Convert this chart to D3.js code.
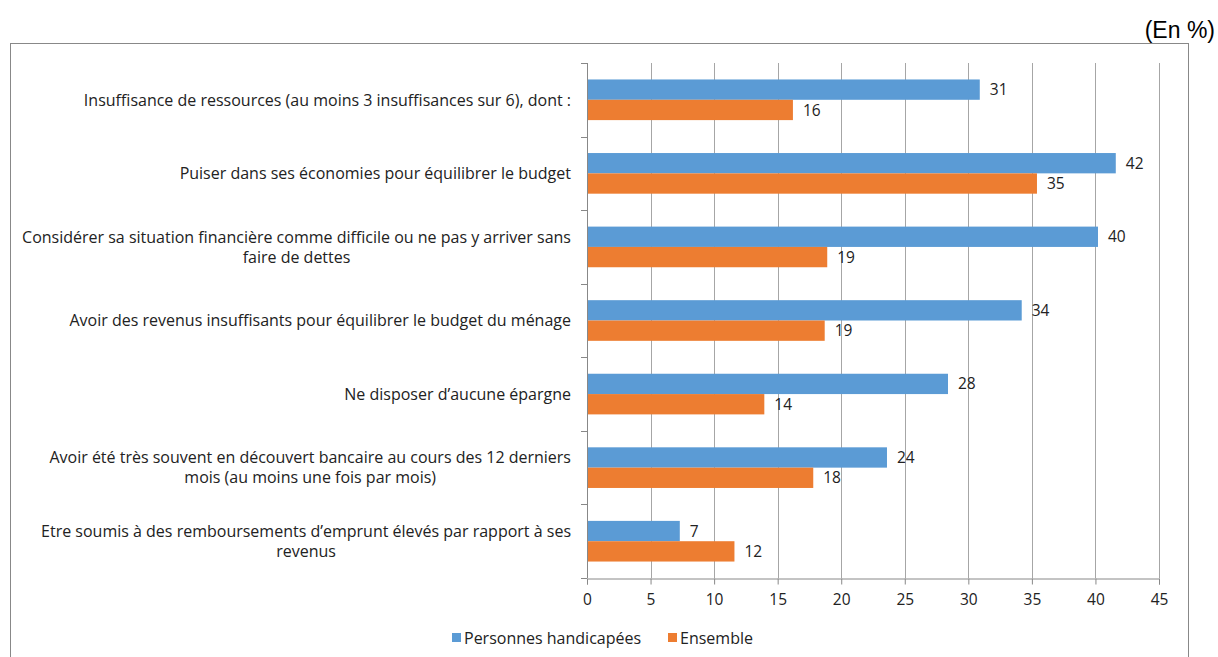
<!DOCTYPE html>
<html>
<head>
<meta charset="utf-8">
<script src="https://cdn.jsdelivr.net/npm/d3@7"></script>
<style>
  body { margin: 0; background: #fff; }
  text { font-family: "Open Sans", sans-serif; fill: #222; }
</style>
</head>
<body>
<div id="chart"></div>
<script>
//////////////////////////// data /////////////////////////////////////////

const categories = [
  ["Insuffisance de ressources (au moins 3 insuffisances sur 6), dont :"],
  ["Puiser dans ses économies pour équilibrer le budget"],
  ["Considérer sa situation financière comme difficile ou ne pas y arriver sans", "faire de dettes"],
  ["Avoir des revenus insuffisants pour équilibrer le budget du ménage"],
  ["Ne disposer d’aucune épargne"],
  ["Avoir été très souvent en découvert bancaire au cours des 12 derniers", "mois (au moins une fois par mois)"],
  ["Etre soumis à des remboursements d’emprunt élevés  par rapport à ses", "revenus"]
];
const seriesNames = ["Personnes handicapées", "Ensemble"];
// values (labels show them rounded)
const handicapees = [30.9, 41.6, 40.2, 34.2, 28.4, 23.6, 7.3];
const ensemble = [16.2, 35.4, 18.9, 18.7, 13.95, 17.8, 11.6];
const xTicks = [0, 5, 10, 15, 20, 25, 30, 35, 40, 45];

const colors = ["#5B9BD5", "#ED7D31"];

//////////////////////////// svg ///////////////////////////////////

const width = 1218, height = 657;
const svg = d3.select("#chart").append("svg")
  .attr("width", width).attr("height", height);

// outer frame
svg.append("rect")
  .attr("x", 10.5).attr("y", 43.5)
  .attr("width", 1178).attr("height", 640)
  .attr("fill", "none").attr("stroke", "#888").attr("stroke-width", 1);

svg.append("text")
  .attr("x", 1215).attr("y", 38)
  .attr("text-anchor", "end")
  .style("font-family", "Arial, 'Liberation Sans', sans-serif")
  .style("font-size", "23px")
  .style("fill", "#000")
  .text("(En %)");

//////////////////////////// scales ///////////////////////////////////////

const plot = { left: 587, right: 1159, top: 63, bottom: 578 };

const x = d3.scaleLinear().domain([0, 45]).range([plot.left, plot.right]);
const y = d3.scaleBand().domain(d3.range(categories.length))
  .range([plot.top, plot.bottom]).paddingInner(0).paddingOuter(0);
const inner = d3.scaleBand().domain([0, 1])
  .range([0, y.bandwidth()]).paddingInner(0).paddingOuter(0.81);

const fmt = d3.format(".0f");

//////////////////////////// grid & axes //////////////////////////////////

const g = svg.append("g");

g.selectAll(".grid").data(xTicks.slice(1)).join("line")
  .attr("x1", d => Math.round(x(d)) + 0.5).attr("x2", d => Math.round(x(d)) + 0.5)
  .attr("y1", plot.top).attr("y2", plot.bottom)
  .attr("stroke", "#a6a6a6");

const xAxis = g.append("g")
  .attr("transform", `translate(0,${plot.bottom + 0.5})`)
  .call(d3.axisBottom(x).tickValues(xTicks).tickSize(6).tickPadding(9));
xAxis.select(".domain").attr("stroke", "#888");
xAxis.selectAll(".tick line").attr("stroke", "#888");
xAxis.selectAll(".tick text")
  .style("font-size", "15.5px").style("font-family", "'Open Sans', sans-serif").attr("fill", "#222");

// left axis with category boundary ticks
const yBounds = d3.range(categories.length + 1).map(i => plot.top + i * y.step());
g.append("line")
  .attr("x1", plot.left + 0.5).attr("x2", plot.left + 0.5)
  .attr("y1", plot.top).attr("y2", plot.bottom)
  .attr("stroke", "#888");
g.selectAll(".ytick").data(yBounds).join("line")
  .attr("x1", plot.left - 6).attr("x2", plot.left)
  .attr("y1", d => Math.round(d) + 0.5).attr("y2", d => Math.round(d) + 0.5)
  .attr("stroke", "#888");

//////////////////////////// bars /////////////////////////////////////////

const rows = categories.map((c, i) => ({ i, vals: [handicapees[i], ensemble[i]] }));

const groups = g.selectAll(".grp").data(rows).join("g")
  .attr("transform", d => `translate(0,${y(d.i)})`);

groups.selectAll("rect").data(d => d.vals).join("rect")
  .attr("x", x(0) + 1)
  .attr("y", (d, j) => inner(j))
  .attr("width", d => x(d) - x(0) - 1)
  .attr("height", inner.bandwidth())
  .attr("fill", (d, j) => colors[j]);

groups.selectAll(".val").data(d => d.vals).join("text")
  .attr("x", d => x(d) + 10)
  .attr("y", (d, j) => inner(j) + inner.bandwidth() / 2)
  .attr("dy", "0.36em")
  .style("font-size", "15.5px")
  .text(d => fmt(d));

//////////////////////////// category labels //////////////////////////////

const labelRight = 571;
const lineH = 20;
categories.forEach((lines, i) => {
  const cy = y(i) + y.bandwidth() / 2;
  const t = svg.append("g");
  const texts = lines.map((ln, k) => t.append("text")
    .attr("y", cy + (k - (lines.length - 1) / 2) * lineH)
    .attr("dy", "0.36em")
    .attr("text-anchor", "middle")
    .style("font-size", "16px")
    .text(ln));
  const maxW = d3.max(texts, tx => tx.node().getComputedTextLength());
  texts.forEach(tx => tx.attr("x", labelRight - maxW / 2));
});

//////////////////////////// legend ///////////////////////////////////////

const legendItems = [{ x: 452, name: seriesNames[0], c: colors[0] }, { x: 668, name: seriesNames[1], c: colors[1] }];
const lg = svg.selectAll(".lg").data(legendItems).join("g")
  .attr("transform", d => `translate(${d.x},638)`);
lg.append("rect").attr("x", 0).attr("y", -5).attr("width", 9).attr("height", 9).attr("fill", d => d.c);
lg.append("text").attr("x", 12).attr("y", 0).attr("dy", "0.36em")
  .style("font-size", "16px").text(d => d.name);
</script>
</body>
</html>
